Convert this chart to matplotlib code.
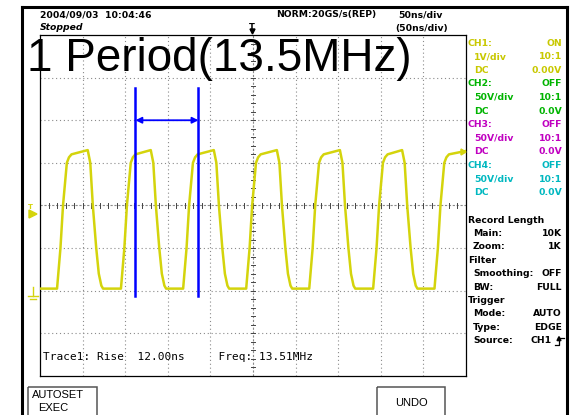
import matplotlib
matplotlib.use('Agg')
import matplotlib.pyplot as plt
from matplotlib.patches import Rectangle, Polygon
from matplotlib.lines import Line2D

# Trace (50 ns/div, 1 V/div), 0 V crossings in ns
rise_ns = [27, 102, 175, 249, 323, 398, 470]
fall_ns = [62, 136, 210, 284, 358, 431]
# edge shape around each crossing (ns offset, volts)
rise_dt = [-7, -3, 0, 4.5, 7, 10]
rise_v = [-1.95, -1.0, 0.0, 1.0, 1.13, 1.2]
fall_dt = [-6, -3, 0, 4, 7, 10, 12]
fall_v = [1.3, 1.0, 0.0, -1.0, -1.6, -1.88, -1.95]
start_v = -1.95
end_v = 1.28

cursor_ns = [112, 186]

ch_names = ["CH1:", "CH2:", "CH3:", "CH4:"]
ch_state = ["ON", "OFF", "OFF", "OFF"]
ch_vdiv = ["1V/div", "50V/div", "50V/div", "50V/div"]
ch_probe = ["10:1", "10:1", "10:1", "10:1"]
ch_offset = ["0.00V", "0.0V", "0.0V", "0.0V"]
ch_colors = ["#c8c800", "#00b400", "#c000c0", "#00b8c0"]

info_labels = ["Record Length", " Main:", " Zoom:", "Filter", " Smoothing:", " BW:",
               "Trigger", " Mode:", " Type:", " Source:"]
info_values = ["", "10K", "1K", "", "OFF", "FULL", "", "AUTO", "EDGE", "CH1"]

YEL = "#d4d40c"
BLUE = "#0000ff"

fig = plt.figure(figsize=(5.71, 4.15), dpi=100)

# graticule: 10 x 8 divisions
ax = fig.add_axes([40 / 571, (415 - 376) / 415, 426 / 571, 341 / 415])
ax.set_xlim(0, 500)
ax.set_ylim(-4, 4)
ax.set_xticks([])
ax.set_yticks([])
for s in ax.spines.values():
    s.set_linewidth(0.9)
    s.set_color("black")

dot = dict(color="#8a8a8a", lw=0.8, linestyle=(0, (1, 2.5)))
for x in range(50, 500, 50):
    if x != 250:
        ax.axvline(x, **dot)
for y in range(-3, 4):
    if y != 0:
        ax.axhline(y, **dot)
ax.axhline(0, color="#8a8a8a", lw=0.8, linestyle=(0, (2, 1.5)))
ax.axvline(250, color="#8a8a8a", lw=0.8, linestyle=(0, (2, 1.5)))
for i in range(1, 50):
    x = i * 10
    ax.plot([x, x], [-0.06, 0.06], color="#444444", lw=0.7)
for i in range(-19, 20):
    y = i * 0.2
    ax.plot([247.5, 252.5], [y, y], color="#444444", lw=0.7)

# build the trace polyline
t = [0]
v = [start_v]
edges = sorted([(r, "r") for r in rise_ns] + [(f, "f") for f in fall_ns])
for tc, kind in edges:
    dts, vs = (rise_dt, rise_v) if kind == "r" else (fall_dt, fall_v)
    for dt, vv in zip(dts, vs):
        t.append(tc + dt)
        v.append(vv)
t.append(500)
v.append(end_v)
ax.plot(t, v, color=YEL, lw=1.8, solid_joinstyle="round", zorder=3)

# cursors
for c in cursor_ns:
    ax.plot([c, c], [-2.12, 2.76], color=BLUE, lw=1.8, zorder=4)
ax.annotate("", xy=(cursor_ns[1], 2.0), xytext=(cursor_ns[0], 2.0),
            arrowprops=dict(arrowstyle="<|-|>", color=BLUE, lw=1.3, mutation_scale=9,
                            shrinkA=0, shrinkB=0), zorder=4)

ax.text(3, -3.55, "Trace1: Rise  12.00ns     Freq: 13.51MHz", family="DejaVu Sans Mono",
        fontsize=8, va="center", ha="left", color="black")

# overlay in pixel coordinates
bg = fig.add_axes([0, 0, 1, 1], zorder=5)
bg.set_xlim(0, 571)
bg.set_ylim(415, 0)
bg.axis("off")
bg.patch.set_alpha(0)

bg.add_line(Line2D([22, 22], [7, 415], color="black", lw=2.2))
bg.add_line(Line2D([22, 567], [7, 7], color="black", lw=2.2))
bg.add_line(Line2D([567, 567], [7, 415], color="black", lw=2.2))

hdr = dict(fontsize=6.7, fontweight="bold", va="center", family="DejaVu Sans")
bg.text(40, 15, "2004/09/03  10:04:46", ha="left", **hdr)
bg.text(40, 28, "Stopped", ha="left", style="italic", **hdr)
bg.text(276, 15, "NORM:20GS/s(REP)", ha="left", **hdr)
bg.text(398, 15, "50ns/div", ha="left", **hdr)
bg.text(395, 28, "(50ns/div)", ha="left", **hdr)
bg.text(252, 27, "T", ha="center", fontsize=6, fontweight="bold", va="center")
bg.add_patch(Polygon([[250, 29], [255, 29], [252.5, 34]], closed=True, color="black"))

bg.text(27, 59, "1 Period(13.5MHz)", family="Liberation Sans", fontsize=33,
        ha="left", va="center", color="black")

# left markers
bg.add_patch(Polygon([[29, 210], [37, 214], [29, 218]], closed=True, color=YEL))
bg.text(30, 210, "T", fontsize=5, color=YEL, ha="center", va="bottom", fontweight="bold")
bg.add_line(Line2D([33, 33], [287, 296], color=YEL, lw=1))
bg.add_line(Line2D([28, 38], [296, 296], color=YEL, lw=1))
bg.add_line(Line2D([30, 36], [298.5, 298.5], color=YEL, lw=1))
bg.add_patch(Polygon([[466, 152], [461, 149], [461, 155]], closed=True, color=YEL))

# channel panel
y = 43
for i in range(4):
    col = ch_colors[i]
    rows = [(ch_names[i], ch_state[i], 468), (ch_vdiv[i], ch_probe[i], 474),
            ("DC", ch_offset[i], 474)]
    for lab, val, lx in rows:
        bg.text(lx, y, lab, color=col, ha="left", **hdr)
        bg.text(562, y, val, color=col, ha="right", **hdr)
        y += 13.6

y = 220
for lab, val in zip(info_labels, info_values):
    lx = 468 if not lab.startswith(" ") else 473
    bg.text(lx, y, lab.strip(), ha="left", **hdr)
    if val:
        bg.text(562 if lab.strip() != "Source:" else 552, y, val, ha="right", **hdr)
    y += 13.4
# rising edge symbol for trigger source
sy = 220 + 9 * 13.4
bg.add_line(Line2D([555, 559, 559, 564], [sy + 4, sy + 4, sy - 3, sy - 3], color="black", lw=0.9))
bg.add_patch(Polygon([[557, sy], [561, sy], [559, sy - 4]], closed=True, color="black"))

# buttons
bg.add_patch(Rectangle((28, 387), 69, 35, fill=False, ec="#555555", lw=1.1))
bg.text(32, 395, "AUTOSET", family="Liberation Sans", fontsize=8, ha="left", va="center")
bg.text(38, 408, "EXEC", family="Liberation Sans", fontsize=8, ha="left", va="center")
bg.add_patch(Rectangle((377, 387), 68, 35, fill=False, ec="#555555", lw=1.1))
bg.text(411, 403, "UNDO", family="Liberation Sans", fontsize=8, ha="center", va="center")

fig.savefig("out.png", dpi=100)
